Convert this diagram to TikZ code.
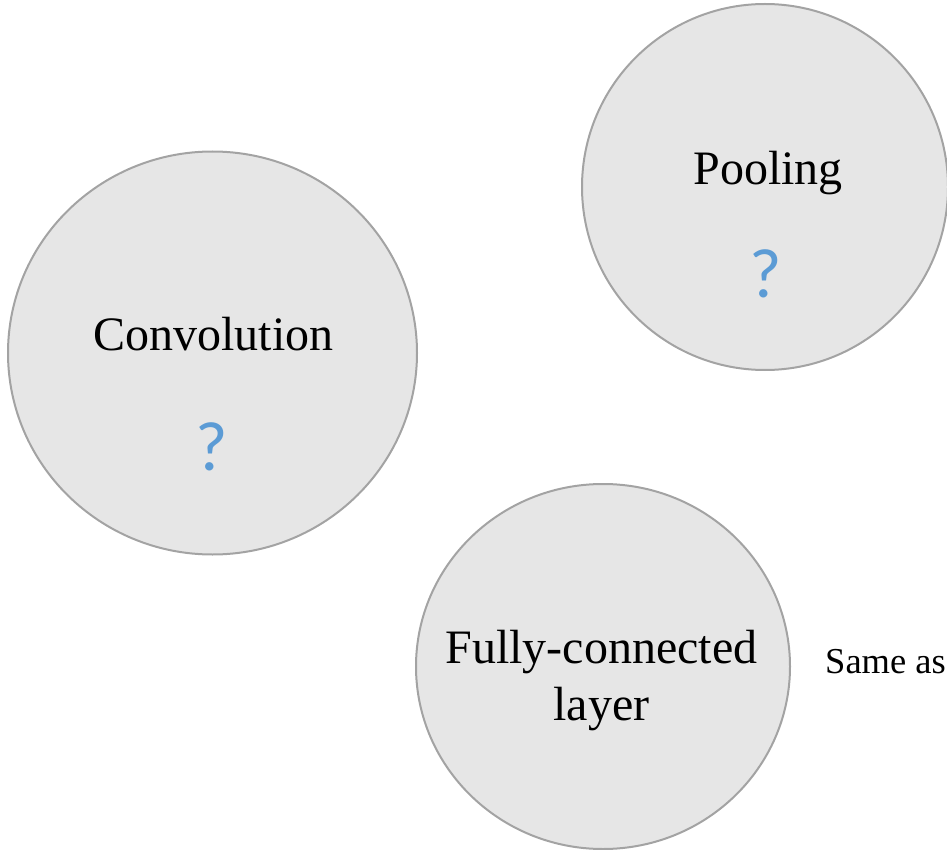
\documentclass[tikz,border=0pt]{standalone}
\usepackage{fontspec}
\setmainfont{Liberation Serif}
\newfontfamily\qfont{Carlito}
\usetikzlibrary{shapes.geometric}
\definecolor{discfill}{HTML}{E6E6E6}
\definecolor{discline}{HTML}{A3A3A3}
\definecolor{qblue}{HTML}{5B9BD5}
\begin{document}
\begin{tikzpicture}[x=1pt,y=-1pt,
  disc/.style={ellipse, draw=discline, fill=discfill, line width=2pt, inner sep=0pt, outer sep=0pt},
  lbl/.style={anchor=base, inner sep=0pt, font=\fontsize{48}{57}\selectfont},
  qmark/.style={inner sep=0pt, text=qblue, font=\qfont\fontsize{70}{70}\selectfont},
  note/.style={anchor=base west, inner sep=0pt, font=\fontsize{36.5}{40}\selectfont}]
  \useasboundingbox (0,0) rectangle (947,850);
  % layer discs
  \node[disc, minimum width=409pt, minimum height=403pt] (conv) at (212.5,353) {};
  \node[disc, minimum width=366pt, minimum height=366pt] (pool) at (765,187) {};
  \node[disc, minimum width=374pt, minimum height=365pt] (fc) at (603,666.5) {};
  % titles
  \node[lbl] (convt) at (213.5,350) {Convolution};
  \node[lbl] (poolt) at (768,185) {Pooling};
  \node[lbl, align=center] (fct) at (601.5,720) {Fully-connected\\layer};
  % open questions
  \node[qmark] (convq) at (211.5,447) {?};
  \node[qmark] (poolq) at (766,274) {?};
  % side note
  \node[note] (same) at (825,673) {Same as};
\end{tikzpicture}
\end{document}
